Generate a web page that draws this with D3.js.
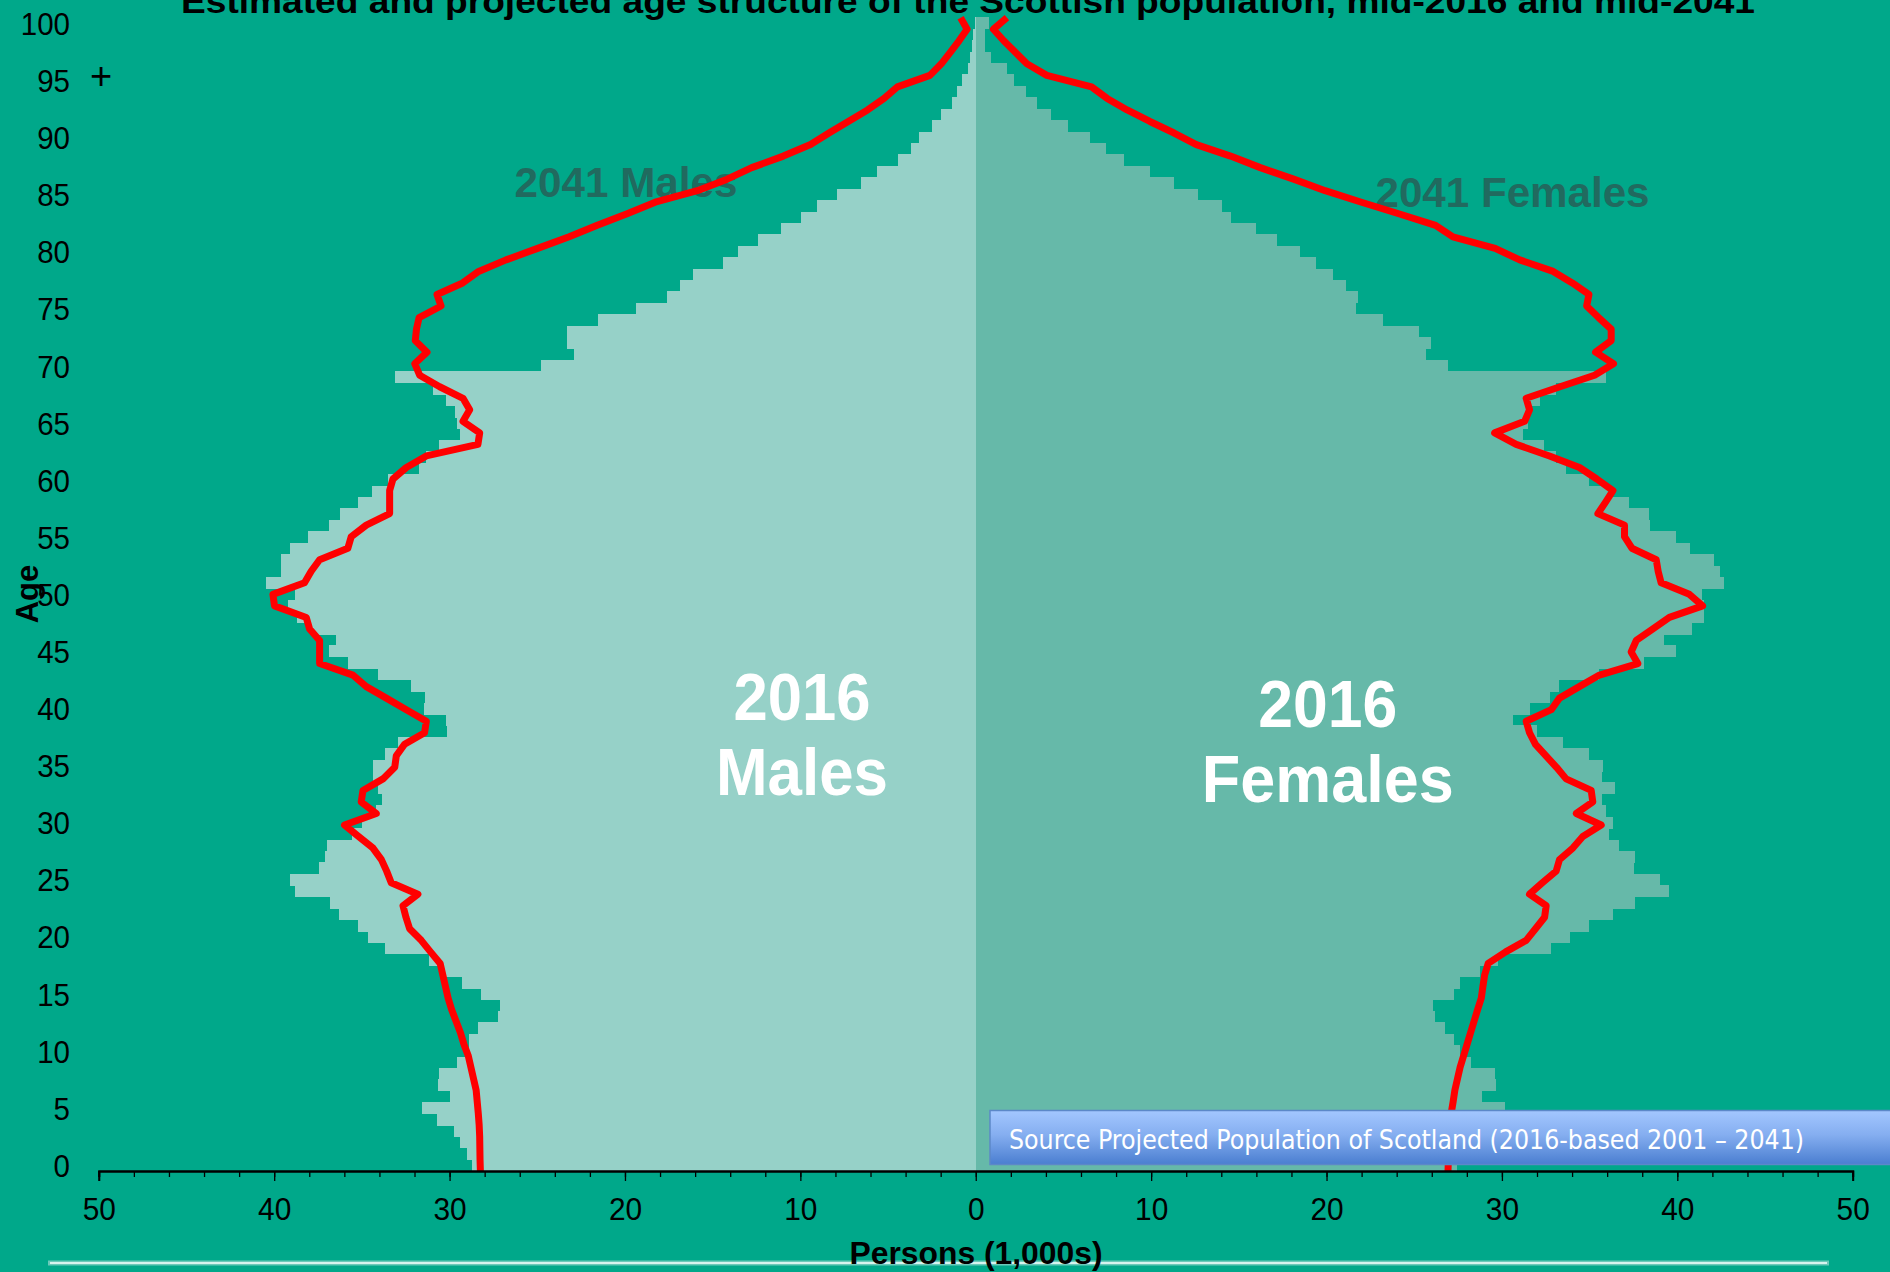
<!DOCTYPE html>
<html><head><meta charset="utf-8">
<script src="https://cdn.jsdelivr.net/npm/d3@7"></script>
<style>html,body{margin:0;padding:0;background:#00A88A;overflow:hidden}svg{display:block}</style>
</head><body>
<svg id="chart" width="1890" height="1272"></svg>
<script>
// ---------------- DATA (thousands of persons, ages 0..100) ----------------
const ages = d3.range(0, 101);
const male2016 = [28.72,29.02,29.40,29.78,30.73,31.57,30.01,30.68,30.62,29.59,
  28.91,28.91,28.38,27.26,27.12,28.24,29.33,30.39,31.21,33.72,
  34.69,35.22,36.32,36.83,38.85,39.12,37.48,37.14,37.00,35.60,
  35.00,34.20,33.85,34.10,34.38,34.38,33.72,32.96,30.17,30.20,
  31.50,31.44,32.24,34.10,35.81,36.91,36.51,37.90,38.70,39.20,
  38.85,40.46,39.61,39.61,39.11,38.07,36.91,36.24,35.26,34.44,
  33.50,31.78,31.34,30.62,29.44,29.57,29.71,30.24,30.96,33.15,
  24.83,22.91,23.34,23.34,21.56,19.40,17.61,16.87,16.12,14.44,
  13.58,12.47,11.12,9.99,9.09,7.92,6.57,5.67,4.47,3.75,
  3.28,2.53,1.99,1.38,1.09,0.82,0.50,0.35,0.26,0.19,0.10];
const female2016 = [27.40,27.70,28.10,28.40,29.30,30.14,28.86,29.66,29.57,28.24,
  27.57,27.23,26.75,26.15,26.05,27.23,27.57,28.71,29.76,32.76,
  33.88,34.98,36.30,37.60,39.50,39.00,37.50,37.55,36.65,36.12,
  36.31,35.90,35.70,36.41,35.70,35.74,34.98,33.46,32.00,30.61,
  31.56,32.70,33.27,35.55,38.12,39.93,39.22,40.82,41.54,41.54,
  41.41,42.64,42.43,42.07,40.72,39.93,38.44,38.40,37.26,36.03,
  34.98,33.62,33.08,32.38,31.18,31.47,31.56,32.13,33.08,35.90,
  26.93,25.66,25.92,25.23,23.19,21.64,21.79,21.10,20.34,19.37,
  18.46,17.18,15.94,14.51,14.00,12.66,11.25,9.91,8.40,7.39,
  6.47,5.25,4.28,3.44,2.83,2.17,1.74,0.83,0.50,0.47,0.72];
const male2041 = [28.26,28.28,28.29,28.30,28.33,28.38,28.44,28.50,28.65,28.80,
  28.95,29.20,29.40,29.65,29.90,30.10,30.25,30.40,30.55,31.10,
  31.63,32.29,32.50,32.67,31.82,33.34,33.60,33.90,34.38,35.20,
  36.00,34.19,35.05,34.95,33.81,33.14,33.05,32.58,31.44,31.34,
  32.48,33.62,34.76,35.52,37.42,37.42,37.42,37.99,38.18,39.99,
  40.08,38.28,37.90,37.42,35.81,35.62,34.76,33.43,33.43,33.43,
  33.24,32.48,31.34,28.40,28.30,29.25,28.87,29.25,30.58,31.72,
  32.00,31.30,31.97,31.90,31.75,30.50,30.73,29.27,28.36,26.80,
  25.00,23.20,21.60,19.90,18.30,15.90,14.20,12.80,11.00,9.45,
  8.40,7.30,6.20,5.26,4.50,2.65,2.00,1.49,0.99,0.53,0.90];
const female2041 = [26.91,26.93,26.95,27.00,27.05,27.09,27.20,27.30,27.45,27.60,
  27.80,28.00,28.20,28.40,28.60,28.81,28.90,29.00,29.20,30.20,
  31.37,31.90,32.42,32.51,31.56,32.30,33.08,33.27,34.03,34.60,
  35.65,34.23,35.17,35.08,33.65,33.10,32.50,31.90,31.56,31.37,
  32.80,33.27,34.40,35.55,37.74,37.36,37.65,38.60,39.54,41.44,
  40.68,39.07,38.90,38.79,37.40,36.98,36.98,35.46,35.90,36.32,
  35.40,34.41,32.70,30.80,29.57,31.28,31.56,31.37,33.30,35.27,
  36.35,35.33,36.22,36.22,35.50,34.82,34.95,34.00,32.91,31.00,
  29.60,27.19,26.20,24.10,21.97,19.90,18.10,16.20,14.50,12.55,
  11.28,9.90,8.60,7.46,6.57,4.02,2.88,2.22,1.56,0.97,1.74];
const yTickAges = [0,5,10,15,20,25,30,35,40,45,50,55,60,65,70,75,80,85,90,95,100];
const xTickValues = [-50,-40,-30,-20,-10,0,10,20,30,40,50];
const titleText = "Estimated and projected age structure of the Scottish population, mid-2016 and mid-2041";
const sourceText = "Source Projected Population of Scotland (2016-based 2001 \u2013 2041)";

// ---------------- LAYOUT ----------------
const W = 1890, H = 1272;
const X0 = 976.4, XL = 98.8, XR = 1852.7, YB = 1171, YT = 17.7;
const C = {bg:"#00A88A", male:"#96D1C8", female:"#66B9A9", line:"#FF0000", label2041:"#216A5F"};

const svg = d3.select("#chart");
svg.append("rect").attr("width", W).attr("height", H).attr("fill", C.bg);

const xMale = d3.scaleLinear().domain([0, 50]).range([X0, XL]);
const xFemale = d3.scaleLinear().domain([0, 50]).range([X0, XR]);
const xAxisScale = d3.scaleLinear().domain([-50, 50]).range([XL, XR]);
const yBand = d3.scaleBand().domain(ages).range([YB, YT]).padding(0);
const yLine = d3.scaleLinear().domain([0, 100]).range([YB, YT]);

// bars
const bars = svg.append("g").attr("shape-rendering", "crispEdges");
bars.selectAll("rect.m").data(ages).join("rect").attr("class", "m")
  .attr("x", a => xMale(male2016[a])).attr("width", a => X0 - xMale(male2016[a]))
  .attr("y", a => yBand(a) - 0.3).attr("height", yBand.bandwidth() + 0.6)
  .attr("fill", C.male);
bars.selectAll("rect.f").data(ages).join("rect").attr("class", "f")
  .attr("x", X0).attr("width", a => xFemale(female2016[a]) - X0)
  .attr("y", a => yBand(a) - 0.3).attr("height", yBand.bandwidth() + 0.6)
  .attr("fill", C.female);

// in-chart labels
function label(txt, x, y, size, fill, len) {
  const t = svg.append("text").attr("x", x).attr("y", y).attr("text-anchor", "middle")
    .attr("font-family", "'Liberation Sans', Arial, sans-serif").attr("font-weight", "bold")
    .attr("font-size", size).attr("fill", fill).text(txt);
  if (len) t.attr("textLength", len).attr("lengthAdjust", "spacingAndGlyphs");
  return t;
}
label("2041 Males", 626, 197, 42, C.label2041, 223);
label("2041 Females", 1512.5, 207, 42, C.label2041, 274);
label("2016", 802, 719.5, 67, "#FFFFFF", 137);
label("Males", 802, 794.5, 67, "#FFFFFF", 172);
label("2016", 1327.7, 727, 67, "#FFFFFF", 139);
label("Females", 1327.7, 801.5, 67, "#FFFFFF", 252);

// projection lines
const lineM = d3.line().x(a => xMale(male2041[a])).y(a => yLine(a));
const lineF = d3.line().x(a => xFemale(female2041[a])).y(a => yLine(a));
svg.append("path").attr("d", lineM(ages)).attr("fill", "none").attr("stroke", C.line)
  .attr("stroke-width", 7).attr("stroke-linejoin", "round");
svg.append("path").attr("d", lineF(ages)).attr("fill", "none").attr("stroke", C.line)
  .attr("stroke-width", 7).attr("stroke-linejoin", "round");

// source box
const defs = svg.append("defs");
const grad = defs.append("linearGradient").attr("id", "boxg").attr("x1", 0).attr("y1", 0).attr("x2", 0).attr("y2", 1);
grad.append("stop").attr("offset", "0%").attr("stop-color", "#A3C7FF");
grad.append("stop").attr("offset", "45%").attr("stop-color", "#85AEF0");
grad.append("stop").attr("offset", "100%").attr("stop-color", "#4A7ED0");
svg.append("rect").attr("x", 990).attr("y", 1110.5).attr("width", 940).attr("height", 54)
  .attr("fill", "url(#boxg)").attr("stroke", "#5C88C8").attr("stroke-width", 1.5);
svg.append("text").attr("x", 1009).attr("y", 1149).attr("font-family", "'Liberation Sans Narrow', 'DejaVu Sans Condensed', 'Liberation Sans', sans-serif")
  .attr("font-stretch", "condensed").attr("font-size", 27).attr("fill", "#FFFFFF")
  .attr("textLength", 795).attr("lengthAdjust", "spacingAndGlyphs").text(sourceText);

// x axis: minor ticks every 2, major every 10
const axMinor = d3.axisBottom(xAxisScale).tickValues(d3.range(-50, 51, 2)).tickSize(6).tickFormat("");
const axMajor = d3.axisBottom(xAxisScale).tickValues(xTickValues).tickSize(10).tickFormat(d => Math.abs(d));
const gxm = svg.append("g").attr("transform", `translate(0,${YB})`).call(axMinor);
const gx = svg.append("g").attr("transform", `translate(0,${YB})`).call(axMajor);
[gxm, gx].forEach(g => {
  g.select(".domain").attr("stroke", "#000").attr("stroke-width", 2);
  g.selectAll(".tick line").attr("stroke", "#000").attr("stroke-width", 1.3);
});
gx.selectAll(".tick text").attr("y", 49).attr("dy", 0).attr("fill", "#000")
  .attr("font-family", "'Liberation Sans', Arial, sans-serif").attr("font-size", 32)
  .attr("textLength", d => String(Math.abs(d)).length * 16.6).attr("lengthAdjust", "spacingAndGlyphs");

// y axis labels
const ay = d3.axisLeft(yBand).tickValues(yTickAges).tickSize(0).tickPadding(0);
const gy = svg.append("g").attr("transform", `translate(70,0)`).call(ay);
gy.select(".domain").remove();
gy.selectAll(".tick text").attr("dy", "0.36em").attr("fill", "#000")
  .attr("font-family", "'Liberation Sans', Arial, sans-serif").attr("font-size", 32)
  .attr("textLength", d => String(d).length * 16.4).attr("lengthAdjust", "spacingAndGlyphs");

svg.append("text").attr("x", 101).attr("y", 89).attr("text-anchor", "middle")
  .attr("font-family", "'Liberation Sans', Arial, sans-serif").attr("font-size", 38).attr("fill", "#000").text("+");

svg.append("text").attr("transform", "translate(38,594) rotate(-90)").attr("text-anchor", "middle")
  .attr("font-family", "'Liberation Sans', Arial, sans-serif").attr("font-weight", "bold")
  .attr("font-size", 31).attr("fill", "#000").text("Age");

// bottom decorative rule
svg.append("line").attr("x1", 48).attr("x2", 1829).attr("y1", 1263).attr("y2", 1263)
  .attr("stroke", "#6CC9BA").attr("stroke-width", 5);
svg.append("line").attr("x1", 50).attr("x2", 1827).attr("y1", 1263).attr("y2", 1263)
  .attr("stroke", "#D6F3EE").attr("stroke-width", 2);

svg.append("text").attr("x", 976).attr("y", 1264).attr("text-anchor", "middle")
  .attr("font-family", "'Liberation Sans', Arial, sans-serif").attr("font-weight", "bold")
  .attr("font-size", 32).attr("fill", "#000").attr("textLength", 253).attr("lengthAdjust", "spacingAndGlyphs")
  .text("Persons (1,000s)");

// title (cut off at top as in the original)
svg.append("text").attr("x", 181).attr("y", 13).attr("font-family", "'Liberation Sans', Arial, sans-serif")
  .attr("font-weight", "bold").attr("font-size", 34).attr("fill", "#000")
  .attr("textLength", 1574).attr("lengthAdjust", "spacingAndGlyphs").text(titleText);
</script>
</body></html>
